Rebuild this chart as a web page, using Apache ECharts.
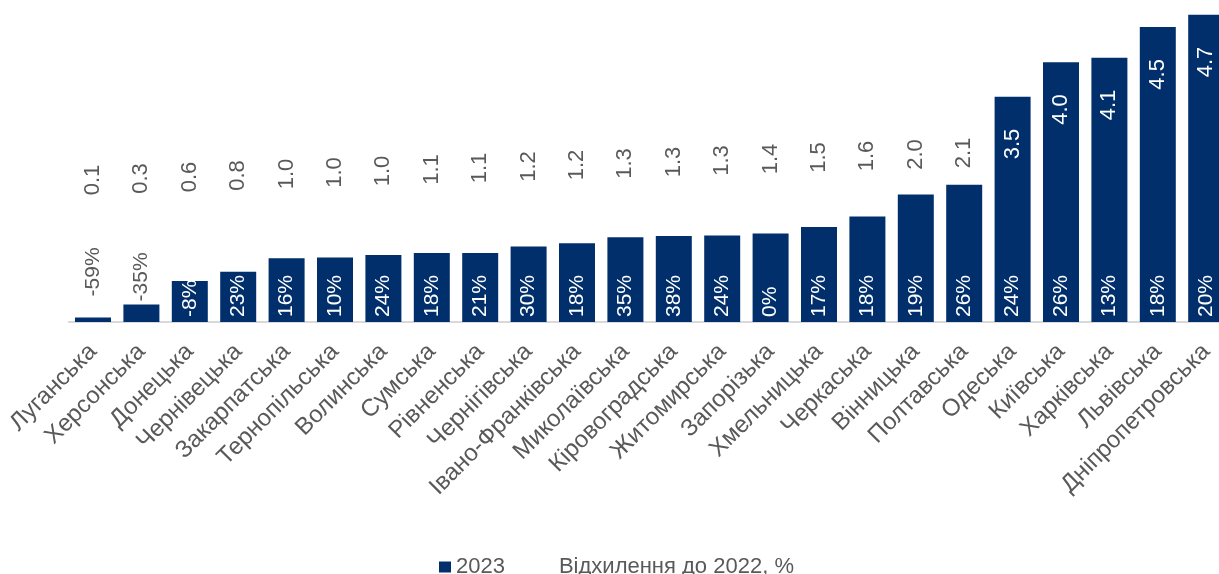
<!DOCTYPE html>
<html>
<head>
<meta charset="utf-8">
<style>
html,body{margin:0;padding:0;background:#fff;}
#chart{width:1219px;height:574px;}
</style>
<script src="https://cdn.jsdelivr.net/npm/echarts@6/dist/echarts.min.js"></script>
</head>
<body>
<div id="chart"></div>
<script>
// ---- data ----
const regions = ['Луганська','Херсонська','Донецька','Чернівецька','Закарпатська','Тернопільська','Волинська','Сумська','Рівненська','Чернігівська','Івано-Франківська','Миколаївська','Кіровоградська','Житомирська','Запорізька','Хмельницька','Черкаська','Вінницька','Полтавська','Одеська','Київська','Харківська','Львівська','Дніпропетровська'];
const values2023 = [0.07,0.27,0.63,0.77,0.98,0.99,1.03,1.06,1.06,1.16,1.21,1.30,1.32,1.33,1.36,1.46,1.62,1.96,2.11,3.46,3.99,4.06,4.53,4.72];
const changeVs2022 = [-59,-35,-8,23,16,10,24,18,21,30,18,35,38,24,0,17,18,19,26,24,26,13,18,20];
const seriesNames = ['2023','Відхилення до 2022, %'];

// ---- layout / style ----
const NAVY = '#002F6C';
const GREY = '#595959';
const FONT = 'Liberation Sans, Arial, sans-serif';
const GRID_TOP = 3, GRID_H = 319, Y_MAX = 4.9;
const AXIS_Y = GRID_TOP + GRID_H;
const PX_PER_UNIT = GRID_H / Y_MAX;
const INSIDE_THRESHOLD = 3;

function valueLabel(v, i) {
  if (v >= INSIDE_THRESHOLD) {
    return {position:'insideTop', distance:32, rotate:90, align:'right', verticalAlign:'middle', color:'#fff'};
  }
  const centerY = 180 - 1.5 * i;           // label placement line
  const barTop = AXIS_Y - v * PX_PER_UNIT;
  return {position:['50%', centerY - barTop], rotate:90, align:'center', verticalAlign:'middle', color:GREY};
}
function pctLabel(v, i) {
  if (v * PX_PER_UNIT < 20) {
    return {position:'top', distance: i === 0 ? 21 : 3, rotate:90, align:'left', verticalAlign:'middle', color:GREY};
  }
  return {position:'insideBottom', distance:5, rotate:90, align:'left', verticalAlign:'middle', color:'#fff'};
}

const chart = echarts.init(document.getElementById('chart'), null, {renderer:'canvas'});
chart.setOption({
  animation:false,
  backgroundColor:'#fff',
  textStyle:{fontFamily:FONT},
  grid:{left:68.8, width:1161.6, top:GRID_TOP, height:GRID_H, outerBoundsMode:'none', containLabel:false},
  xAxis:{type:'category', data:regions,
    axisLine:{lineStyle:{color:'#D9D9D9', width:2}}, axisTick:{show:false},
    axisLabel:{interval:0, rotate:45, margin:26, fontSize:24, color:GREY, fontFamily:FONT}},
  yAxis:{type:'value', min:0, max:Y_MAX, show:false},
  legend:{
    left:434, top:551, itemWidth:12, itemHeight:11, itemGap:37, icon:'rect',
    textStyle:{fontSize:22, color:GREY, fontFamily:FONT},
    data:seriesNames
  },
  series:[
    {name:seriesNames[0], type:'bar', barWidth:36,
     itemStyle:{color:NAVY},
     label:{show:true, fontSize:22, fontFamily:FONT, formatter:p => values2023[p.dataIndex].toFixed(1)},
     data:values2023.map((v,i)=>({value:v, label:valueLabel(v,i)}))},
    {name:seriesNames[1], type:'bar', barWidth:36, barGap:'-100%',
     itemStyle:{color:'rgba(0,0,0,0)'},
     label:{show:true, fontSize:21, fontFamily:FONT, formatter:p => changeVs2022[p.dataIndex] + '%'},
     data:values2023.map((v,i)=>({value:v, label:pctLabel(v,i)}))}
  ]
});
</script>
</body>
</html>
